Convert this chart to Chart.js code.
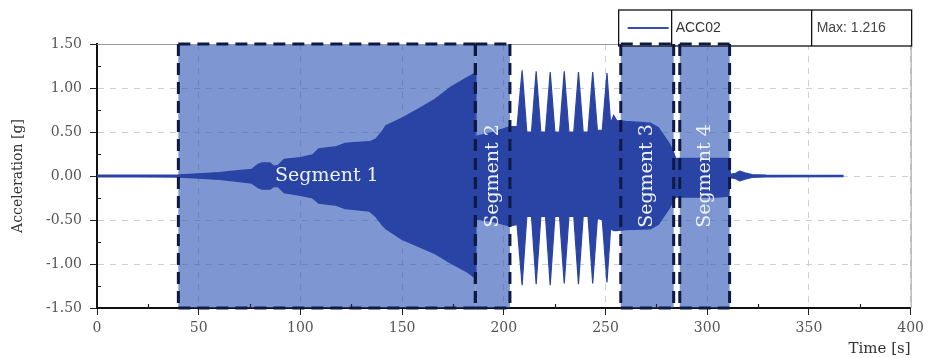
<!DOCTYPE html>
<html>
<head>
<meta charset="utf-8">
<script src="https://cdn.jsdelivr.net/npm/chart.js@4/dist/chart.umd.min.js"></script>
<style>
html,body{margin:0;padding:0;background:#fff;}
#wrap{width:929px;height:358px;position:relative;}
</style>
</head>
<body>
<div id="wrap"><canvas id="c" width="929" height="358"></canvas></div>
<script>
// ---- data ----
// envelope of the ACC02 acceleration record: time [s], upper / lower bound [g]
const timeS = [0,20,40,50,60,67,76,79,81,85,87,89,92,100,106,109,117,122,126,134,137,140,142,150,158,166,174,182,186,186.3,195,203,206.5,209,211.3,213.6,215.9,218.2,220.5,222.8,225.1,227.4,229.7,232.0,234.4,236.7,239.0,241.4,243.7,246.0,248.4,250.7,252.5,254,255.5,260,272,276,281,283,284.5,286,305,310.5,311.5,314,316,318.5,322,329,367];
const envUpper = [0.01,0.01,0.012,0.025,0.04,0.055,0.075,0.13,0.15,0.15,0.11,0.12,0.19,0.21,0.24,0.31,0.33,0.37,0.38,0.39,0.42,0.5,0.57,0.66,0.76,0.87,1.01,1.12,1.17,0.45,0.5,0.56,0.56,1.2,0.5,0.5,1.19,0.5,0.5,1.18,0.5,0.5,1.19,0.5,0.5,1.18,0.5,0.5,1.18,0.52,0.52,1.17,0.6,0.69,0.63,0.62,0.6,0.55,0.38,0.3,0.2,0.2,0.2,0.2,0.02,0.03,0.055,0.035,0.015,0.01,0.008];
const envLower = [-0.01,-0.01,-0.012,-0.025,-0.04,-0.055,-0.08,-0.13,-0.15,-0.15,-0.12,-0.12,-0.19,-0.22,-0.25,-0.31,-0.33,-0.37,-0.38,-0.4,-0.46,-0.55,-0.6,-0.72,-0.8,-0.88,-0.99,-1.09,-1.16,-0.49,-0.52,-0.57,-0.55,-1.24,-0.46,-0.46,-1.23,-0.46,-0.46,-1.24,-0.46,-0.46,-1.22,-0.46,-0.46,-1.23,-0.46,-0.46,-1.22,-0.48,-0.5,-1.21,-0.6,-0.62,-0.62,-0.61,-0.6,-0.55,-0.38,-0.3,-0.24,-0.24,-0.24,-0.23,-0.02,-0.03,-0.055,-0.035,-0.015,-0.01,-0.008];

// segments [s]
const segNames = ['Segment 1','Segment 2','Segment 3','Segment 4'];
const segStart = [40, 186, 257.5, 286.5];
const segEnd   = [186, 203, 283.5, 311];
const segVertical = [false, true, true, true];

// axes
const xTicks = [0,50,100,150,200,250,300,350,400];
const xTickLabels = ['0','50','100','150','200','250','300','350','400'];
const xMinorTicks = [25,75,125,175,225,275,325,375];
const yTicks = [-1.5,-1,-0.5,0,0.5,1,1.5];
const yTickLabels = ['-1.50','-1.00','-0.50','0.00','0.50','1.00','1.50'];
const yMinorTicks = [-1.25,-0.75,-0.25,0.25,0.75,1.25];

const seriesName = 'ACC02';
const seriesMaxText = 'Max: 1.216';

// ---- styles ----
const SIGNAL = '#2a44a6';
const SERIF = '"DejaVu Serif", "Liberation Serif", serif';
const SANS = '"Liberation Sans", Arial, sans-serif';

const upperPts = timeS.map((t, i) => ({x: t, y: envUpper[i]}));
const lowerPts = timeS.map((t, i) => ({x: t, y: envLower[i]}));

const overlay = {
  id: 'overlay',
  beforeDatasetsDraw(chart) {
    const {ctx, scales: {x, y}} = chart;
    ctx.save();
    ctx.fillStyle = 'rgba(40,80,180,0.6)';
    const yt = y.getPixelForValue(yTicks[yTicks.length - 1]);
    const yb = y.getPixelForValue(yTicks[0]);
    segStart.forEach((s, i) => {
      const x0 = x.getPixelForValue(s), x1 = x.getPixelForValue(segEnd[i]);
      ctx.fillRect(x0, yt, x1 - x0, yb - yt);
    });
    ctx.restore();
  },
  afterDatasetsDraw(chart) {
    const {ctx, chartArea: a, scales: {x, y}} = chart;
    ctx.save();
    // top / right frame
    ctx.strokeStyle = '#9a9a9a';
    ctx.lineWidth = 1;
    ctx.beginPath();
    ctx.moveTo(a.left, a.top + 0.5);
    ctx.lineTo(a.right + 0.5, a.top + 0.5);
    ctx.lineTo(a.right + 0.5, a.bottom);
    ctx.stroke();

    // minor ticks crossing the axes
    ctx.strokeStyle = '#222';
    ctx.lineWidth = 1.2;
    ctx.beginPath();
    xMinorTicks.forEach(v => {
      const px = Math.round(x.getPixelForValue(v)) + 0.5;
      ctx.moveTo(px, a.bottom - 4); ctx.lineTo(px, a.bottom + 1);
    });
    yMinorTicks.forEach(v => {
      const py = Math.round(y.getPixelForValue(v)) + 0.5;
      ctx.moveTo(a.left - 1, py); ctx.lineTo(a.left + 4, py);
    });
    ctx.stroke();

    // legend table
    const R = a.right + 1, L = R - 293, T = a.top - 34, B = a.top + 2;
    const c1 = L + 53, c2 = L + 193, my = (T + B) / 2;
    ctx.fillStyle = '#fff';
    ctx.fillRect(L, T, R - L, B - T);
    ctx.strokeStyle = '#111';
    ctx.lineWidth = 1.3;
    ctx.strokeRect(L, T, R - L, B - T);
    ctx.beginPath();
    ctx.moveTo(c1, T); ctx.lineTo(c1, B);
    ctx.moveTo(c2, T); ctx.lineTo(c2, B);
    ctx.stroke();
    ctx.strokeStyle = '#3b4ea6';
    ctx.lineWidth = 2;
    ctx.beginPath();
    ctx.moveTo(L + 9, my); ctx.lineTo(c1 - 3, my);
    ctx.stroke();
    ctx.font = '14px ' + SANS;
    ctx.textBaseline = 'middle';
    ctx.textAlign = 'left';
    ctx.fillStyle = '#333';
    ctx.fillText(seriesName, c1 + 4, my);
    ctx.fillStyle = '#444';
    ctx.fillText(seriesMaxText, c2 + 5, my);

    // segment dashed borders (each edge drawn top->bottom / left->right so shared edges coincide)
    const yt = y.getPixelForValue(yTicks[yTicks.length - 1]);
    const yb = y.getPixelForValue(yTicks[0]);
    ctx.strokeStyle = '#0e1a44';
    ctx.lineWidth = 3;
    ctx.setLineDash([12, 7]);
    segStart.forEach((s, i) => {
      const x0 = x.getPixelForValue(s), x1 = x.getPixelForValue(segEnd[i]);
      [[x0, yt, x1, yt], [x0, yb, x1, yb], [x0, yt, x0, yb], [x1, yt, x1, yb]].forEach(l => {
        ctx.beginPath();
        ctx.moveTo(l[0], l[1]); ctx.lineTo(l[2], l[3]);
        ctx.stroke();
      });
    });
    ctx.setLineDash([]);

    // segment labels
    ctx.fillStyle = '#eef2fb';
    ctx.font = '19px ' + SERIF;
    ctx.textAlign = 'center';
    ctx.textBaseline = 'middle';
    const y0 = y.getPixelForValue(0);
    segNames.forEach((name, i) => {
      const cx = (x.getPixelForValue(segStart[i]) + x.getPixelForValue(segEnd[i])) / 2;
      ctx.save();
      ctx.translate(cx, y0);
      if (segVertical[i]) ctx.rotate(-Math.PI / 2);
      ctx.fillText(name, 0, 0);
      ctx.restore();
    });
    ctx.restore();
  }
};

new Chart(document.getElementById('c'), {
  type: 'line',
  data: {
    datasets: [
      {label: seriesName + ' upper', data: upperPts, borderColor: SIGNAL, borderWidth: 1.2,
       pointRadius: 0, tension: 0, fill: false},
      {label: seriesName + ' lower', data: lowerPts, borderColor: SIGNAL, borderWidth: 1.2,
       pointRadius: 0, tension: 0, fill: '-1', backgroundColor: SIGNAL}
    ]
  },
  options: {
    responsive: false,
    animation: false,
    layout: {padding: {left: 0, top: 44, right: 17, bottom: 0}},
    plugins: {legend: {display: false}, tooltip: {enabled: false}},
    scales: {
      x: {
        type: 'linear',
        min: xTicks[0], max: xTicks[xTicks.length - 1],
        afterFit: s => { s.height = 50; },
        afterBuildTicks: s => { s.ticks = xTicks.map(v => ({value: v})); },
        ticks: {
          autoSkip: false, maxRotation: 0, padding: 5,
          color: '#555', font: {family: SERIF, size: 14},
          callback: v => { const i = xTicks.indexOf(v); return i >= 0 ? xTickLabels[i] : ''; }
        },
        grid: {color: '#cfcfcf', tickColor: '#222', tickLength: 7, lineWidth: 1},
        border: {color: '#111', width: 2, dash: [6, 6]},
        title: {display: true, text: 'Time [s]', align: 'end', color: '#333',
                font: {family: SERIF, size: 15}, padding: {top: 0, bottom: 0}}
      },
      y: {
        min: yTicks[0], max: yTicks[yTicks.length - 1],
        afterFit: s => { s.width = 97; },
        afterBuildTicks: s => { s.ticks = yTicks.map(v => ({value: v})); },
        ticks: {
          autoSkip: false, padding: 8,
          color: '#555', font: {family: SERIF, size: 14},
          callback: v => { const i = yTicks.indexOf(v); return i >= 0 ? yTickLabels[i] : ''; }
        },
        grid: {color: '#cfcfcf', tickColor: '#222', tickLength: 7, lineWidth: 1},
        border: {color: '#111', width: 2, dash: [6, 6]},
        title: {display: true, text: 'Acceleration [g]', color: '#333',
                font: {family: SERIF, size: 14}, padding: {top: 10, bottom: 0}}
      }
    }
  },
  plugins: [overlay]
});
</script>
</body>
</html>
